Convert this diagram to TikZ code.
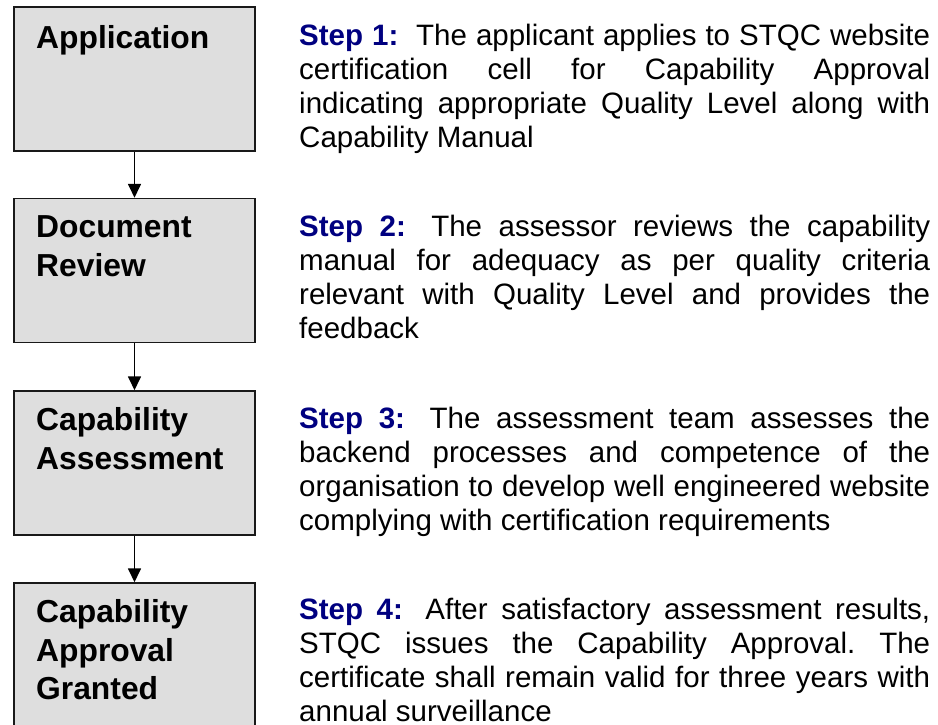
\documentclass[tikz,border=0pt]{standalone}
\usepackage{fontspec}
\setmainfont{Liberation Sans}
\usetikzlibrary{arrows.meta}
\frenchspacing
\definecolor{boxfill}{RGB}{222,222,222}
\definecolor{stepblue}{RGB}{0,0,128}
\tikzset{
  stagebox/.style={draw=black!90, line width=1.5pt, fill=boxfill, minimum width=241pt, minimum height=144pt, inner sep=0pt},
  stagelabel/.style={anchor=base west, inner sep=0pt, text width=215pt, align=left, font=\bfseries\fontsize{31.8}{38.5}\selectfont},
  steptext/.style={anchor=base west, inner sep=0pt, text width=631pt, align=justify, font=\fontsize{29.5}{34}\selectfont},
  flow/.style={line width=1.7pt, -{Triangle[length=14pt,width=13pt]}}
}
\newcommand{\stepname}[1]{\textcolor{stepblue}{\textbf{#1}}\hspace*{0.3em}}
\begin{document}
\begin{tikzpicture}[x=1pt,y=-1pt]
\useasboundingbox (0,0) rectangle (938,724);
\clip (0,0) rectangle (938,724);
\node[stagebox] (b1) at (134.5,79) {};
\node[stagebox] (b2) at (134.5,270.5) {};
\node[stagebox] (b3) at (134.5,463) {};
\node[stagebox] (b4) at (134.5,655) {};
\node[stagelabel] (l1) at (36,48.5) {Application};
\node[stagelabel] (l2) at (36,237.5) {Document\\Review};
\node[stagelabel] (l3) at (36,430.5) {Capability\\Assessment};
\node[stagelabel] (l4) at (36,622.5) {Capability\\Approval\\Granted};
\draw[flow] (b1.south) -- (b2.north);
\draw[flow] (b2.south) -- (b3.north);
\draw[flow] (b3.south) -- (b4.north);
\node[steptext] (t1) at (299,45) {\stepname{Step 1:} The applicant applies to STQC website\linebreak certification cell for Capability Approval\linebreak indicating appropriate Quality Level along with\linebreak Capability Manual};
\node[steptext] (t2) at (299,236) {\stepname{Step 2:} The assessor reviews the capability\linebreak manual for adequacy as per quality criteria\linebreak relevant with Quality Level and provides the\linebreak feedback};
\node[steptext] (t3) at (299,428.5) {\stepname{Step 3:} The assessment team assesses the\linebreak backend processes and competence of the\linebreak organisation to develop well engineered website\linebreak complying with certification requirements};
\node[steptext] (t4) at (299,619) {\stepname{Step 4:} After satisfactory assessment results,\linebreak STQC issues the Capability Approval. The\linebreak certificate shall remain valid for three years with\linebreak annual surveillance};
\end{tikzpicture}
\end{document}
